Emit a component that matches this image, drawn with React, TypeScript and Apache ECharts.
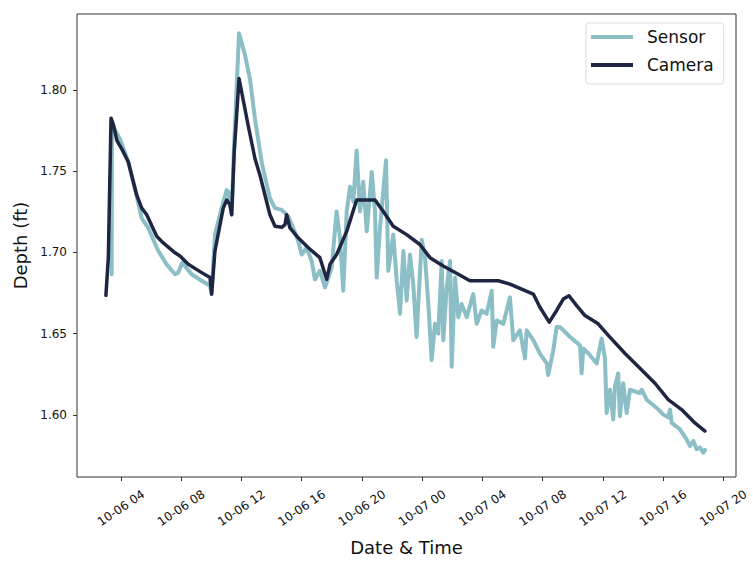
import React, { useEffect, useRef } from "react";
import * as echarts from "echarts";

// Hours since 10-06 00:00
const cameraHours = [
  3.00, 3.16, 3.34, 3.52, 3.73, 4.05, 4.49, 5.04, 5.38, 5.71,
  6.37, 6.81, 7.59, 7.92, 8.47, 9.36, 9.91, 10.02, 10.24, 10.79,
  11.02, 11.24, 11.35, 11.52, 11.84, 12.45, 12.90, 13.23, 13.56, 13.89,
  14.23, 14.67, 14.89, 15.00, 15.22, 15.77, 16.44, 17.21, 17.66, 17.88,
  18.32, 18.99, 19.65, 20.87, 21.42, 22.08, 22.97, 23.85, 24.52, 25.40,
  26.40, 27.17, 29.05, 29.83, 31.38, 31.82, 32.44, 32.93, 33.37, 33.75,
  34.26, 34.81, 35.69, 36.36, 37.47, 38.58, 39.46, 40.34, 41.23, 42.11,
  42.78,
];
const cameraDepth = [
  1.6736, 1.6967, 1.7827, 1.7780, 1.7689, 1.7638, 1.7557, 1.7354, 1.7273, 1.7232,
  1.7100, 1.7059, 1.6998, 1.6978, 1.6927, 1.6876, 1.6846, 1.6744, 1.7009, 1.7273,
  1.7323, 1.7293, 1.7232, 1.7618, 1.8071, 1.7780, 1.7577, 1.7476, 1.7354, 1.7232,
  1.7161, 1.7155, 1.7171, 1.7232, 1.7151, 1.7090, 1.7029, 1.6968, 1.6835, 1.6927,
  1.6988, 1.7130, 1.7323, 1.7323, 1.7252, 1.7161, 1.7110, 1.7049, 1.6968, 1.6917,
  1.6866, 1.6826, 1.6826, 1.6805, 1.6744, 1.6663, 1.6571, 1.6643, 1.6713, 1.6734,
  1.6673, 1.6612, 1.6561, 1.6490, 1.6378, 1.6277, 1.6195, 1.6094, 1.6033, 1.5951,
  1.5901,
];

const sensorHours = [
  3.38, 3.40, 3.57, 3.93, 4.46, 5.00, 5.37, 5.81, 6.48, 7.03,
  7.59, 7.80, 8.07, 8.69, 9.36, 9.91, 10.02, 10.24, 10.77, 11.02,
  11.13, 11.35, 11.50, 11.84, 12.23, 12.57, 12.90, 13.36, 13.89, 14.23,
  14.67, 15.11, 15.44, 15.77, 16.00, 16.33, 16.66, 16.88, 17.21, 17.55,
  17.77, 17.99, 18.32, 18.54, 18.76, 18.99, 19.21, 19.43, 19.65, 19.87,
  20.09, 20.32, 20.65, 20.87, 20.98, 21.20, 21.60, 21.75, 22.08, 22.31,
  22.53, 22.75, 22.97, 23.19, 23.41, 23.63, 23.97, 24.19, 24.41, 24.63,
  24.85, 25.07, 25.30, 25.40, 25.63, 25.85, 25.96, 26.18, 26.40, 26.62,
  26.96, 27.39, 27.62, 27.95, 28.28, 28.62, 28.72, 28.95, 29.39, 29.83,
  30.05, 30.49, 30.83, 30.94, 31.38, 31.82, 32.27, 32.37, 32.71, 32.93,
  33.15, 33.37, 33.82, 34.48, 34.59, 34.70, 35.14, 35.59, 35.92, 36.14,
  36.25, 36.47, 36.69, 36.80, 37.02, 37.13, 37.35, 37.58, 37.80, 38.46,
  38.58, 38.91, 39.57, 40.01, 40.33, 40.46, 40.57, 41.12, 41.56, 41.78,
  42.01, 42.23, 42.45, 42.67, 42.78,
];
const sensorDepth = [
  1.6866, 1.7791, 1.7760, 1.7699, 1.7565, 1.7364, 1.7212, 1.7151, 1.7009, 1.6927,
  1.6866, 1.6876, 1.6937, 1.6866, 1.6826, 1.6795, 1.6744, 1.7110, 1.7303, 1.7384,
  1.7374, 1.7232, 1.7638, 1.8350, 1.8218, 1.8065, 1.7821, 1.7547, 1.7334, 1.7273,
  1.7262, 1.7222, 1.7151, 1.7070, 1.6988, 1.7029, 1.6948, 1.6835, 1.6887, 1.6785,
  1.6846, 1.6907, 1.7252, 1.7090, 1.6765, 1.7252, 1.7405, 1.7313, 1.7628, 1.7252,
  1.7435, 1.7130, 1.7496, 1.7252, 1.6846, 1.7151, 1.7567, 1.6887, 1.7110, 1.6826,
  1.6622, 1.7009, 1.6704, 1.6988, 1.6805, 1.6480, 1.7079, 1.6968, 1.6683, 1.6338,
  1.6561, 1.6500, 1.6948, 1.6460, 1.6785, 1.6948, 1.6297, 1.6846, 1.6602, 1.6683,
  1.6602, 1.6744, 1.6561, 1.6643, 1.6622, 1.6765, 1.6419, 1.6582, 1.6561, 1.6724,
  1.6460, 1.6521, 1.6348, 1.6521, 1.6460, 1.6378, 1.6317, 1.6246, 1.6399, 1.6541,
  1.6541, 1.6521, 1.6480, 1.6429, 1.6256, 1.6409, 1.6368, 1.6317, 1.6470, 1.6348,
  1.6012, 1.6155, 1.5972, 1.6175, 1.6256, 1.5992, 1.6195, 1.6012, 1.6155, 1.6134,
  1.6155, 1.6094, 1.6043, 1.6002, 1.5985, 1.6033, 1.5951, 1.5911, 1.5850, 1.5809,
  1.5840, 1.5789, 1.5799, 1.5768, 1.5785,
];

const xTickHours = [4, 8, 12, 16, 20, 24, 28, 32, 36, 40, 44];
const yTickValues = [1.6, 1.65, 1.7, 1.75, 1.8];

const FONT = "DejaVu Sans";
const SENSOR_COLOR = "#8bbfc5";
const CAMERA_COLOR = "#1e2644";

function hourLabel(h: number): string {
  const day = h < 24 ? "10-06" : "10-07";
  const hh = Math.round(h % 24);
  return `${day} ${hh < 10 ? "0" + hh : String(hh)}`;
}

export default function App() {
  const ref = useRef<HTMLDivElement>(null);
  useEffect(() => {
    if (!ref.current) return;
    const chart = echarts.init(ref.current, null, { renderer: "svg" });
    const sensorData = sensorHours.map((h, i) => [h, sensorDepth[i]]);
    const cameraData = cameraHours.map((h, i) => [h, cameraDepth[i]]);
    chart.setOption({
      animation: false,
      backgroundColor: "#ffffff",
      grid: {
        left: 77,
        top: 14,
        right: 17,
        bottom: 79,
        show: true,
        borderColor: "#333333",
        borderWidth: 1,
        backgroundColor: "transparent",
      },
      legend: {
        left: 586,
        top: 23,
        orient: "vertical",
        icon: "rect",
        itemWidth: 42,
        itemHeight: 4,
        itemGap: 8,
        padding: [4, 10, 9, 5],
        borderColor: "#dddddd",
        borderWidth: 1,
        borderRadius: 3,
        backgroundColor: "rgba(255,255,255,0.8)",
        textStyle: {
          fontFamily: FONT,
          fontSize: 17,
          color: "#111111",
          lineHeight: 20,
          padding: [0, 0, 0, 9],
        },
        data: [
          { name: "Sensor", itemStyle: { color: SENSOR_COLOR } },
          { name: "Camera", itemStyle: { color: CAMERA_COLOR } },
        ],
      },
      xAxis: {
        type: "value",
        min: 1.08,
        max: 44.84,
        name: "Date & Time",
        nameLocation: "middle",
        nameGap: 61,
        nameTextStyle: {
          fontFamily: FONT,
          fontSize: 18,
          color: "#111111",
          verticalAlign: "top",
        },
        splitLine: { show: false },
        axisLine: { show: false },
        axisTick: {
          show: true,
          length: 4,
          customValues: xTickHours,
          lineStyle: { color: "#333333", width: 1 },
        },
        axisLabel: {
          customValues: xTickHours,
          formatter: (v: number) => hourLabel(v),
          rotate: 34,
          align: "center",
          verticalAlign: "middle",
          margin: 31,
          fontFamily: FONT,
          fontSize: 12,
          color: "#111111",
        },
      },
      yAxis: {
        type: "value",
        min: 1.5618,
        max: 1.8468,
        name: "Depth (ft)",
        nameLocation: "middle",
        nameGap: 45,
        nameTextStyle: {
          fontFamily: FONT,
          fontSize: 18,
          color: "#111111",
        },
        splitLine: { show: false },
        axisLine: { show: false },
        axisTick: {
          show: true,
          length: 4,
          customValues: yTickValues,
          lineStyle: { color: "#333333", width: 1 },
        },
        axisLabel: {
          customValues: yTickValues,
          formatter: (v: number) => v.toFixed(2),
          margin: 10,
          fontFamily: FONT,
          fontSize: 12,
          color: "#111111",
        },
      },
      series: [
        {
          name: "Sensor",
          type: "line",
          data: sensorData,
          showSymbol: false,
          symbol: "none",
          lineStyle: { color: SENSOR_COLOR, width: 4, join: "round", cap: "round" },
          itemStyle: { color: SENSOR_COLOR },
          z: 2,
        },
        {
          name: "Camera",
          type: "line",
          data: cameraData,
          showSymbol: false,
          symbol: "none",
          lineStyle: { color: CAMERA_COLOR, width: 3.5, join: "round", cap: "round" },
          itemStyle: { color: CAMERA_COLOR },
          z: 3,
        },
      ],
    });
    return () => chart.dispose();
  }, []);
  return (
    <div
      ref={ref}
      style={{ position: "fixed", left: 0, top: 0, width: 753, height: 561 }}
    />
  );
}
